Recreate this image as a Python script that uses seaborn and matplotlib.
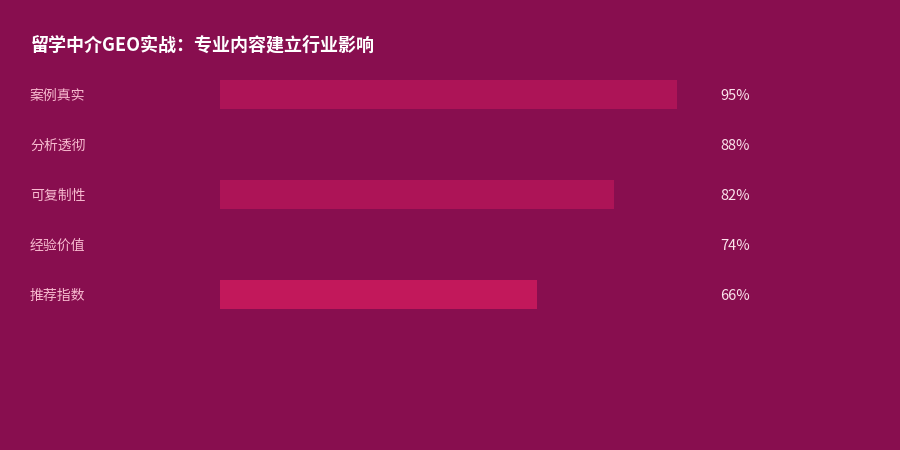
import matplotlib
matplotlib.use("Agg")
import matplotlib.pyplot as plt
import matplotlib.transforms as mtransforms
import seaborn as sns
import pandas as pd

title = "留学中介GEO实战：专业内容建立行业影响"
categories = ["案例真实", "分析透彻", "可复制性", "经验价值", "推荐指数"]
values = [95, 88, 82, 74, 66]
bar_colors = ["#AD1457", "#880E4F", "#AD1457", "#880E4F", "#C2185B"]

BG = "#880E4F"

sns.set_theme(style="white")
plt.rcParams["font.family"] = ["Noto Sans CJK SC", "DejaVu Sans"]

fig = plt.figure(figsize=(9, 4.5), dpi=100, facecolor=BG)
ax = fig.add_axes([220 / 900, 1 - 319 / 450, 481 / 900, 250 / 450])
ax.set_facecolor(BG)

df = pd.DataFrame({"cat": categories, "val": values})
sns.barplot(data=df, x="val", y="cat", hue="cat", palette=bar_colors,
            orient="h", width=0.58, legend=False, ax=ax, saturation=1,
            linewidth=0, edgecolor="none")

ax.set_xlim(0, 100)
ax.set_ylim(4.5, -0.5)
ax.axis("off")

tr = mtransforms.blended_transform_factory(fig.transFigure, ax.transData)
shift = mtransforms.ScaledTranslation(0, -1.5 / 100, fig.dpi_scale_trans)
for i, (c, v) in enumerate(zip(categories, values)):
    ax.text(30 / 900, i, c, transform=tr + shift, ha="left", va="center",
            fontsize=10, color="#F8BBD0")
    ax.text(720 / 900, i, f"{v}%", transform=tr + shift, ha="left", va="center",
            fontsize=10.5, color="#FCE4EC")

fig.text(31 / 900, 1 - 45 / 450, title, ha="left", va="center",
         fontsize=13, fontweight="bold", color="white")

fig.savefig("out.png", dpi=100, facecolor=BG)
